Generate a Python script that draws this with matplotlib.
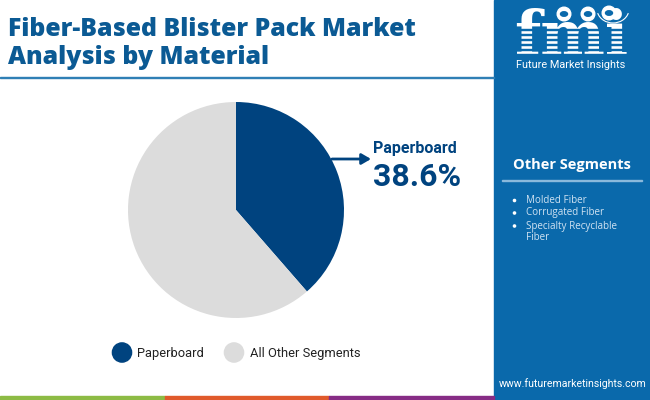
import matplotlib
matplotlib.use("Agg")
import matplotlib.pyplot as plt
from matplotlib.patches import Arc, Circle, Ellipse, Rectangle

plt.rcParams['font.family'] = ['Roboto', 'DejaVu Sans']

labels = ["Paperboard", "All Other Segments"]
values = [38.6, 61.4]
colors = ["#00437f", "#dcdcdc"]
others = ["Molded Fiber", "Corrugated Fiber", "Specialty Recyclable", "Fiber"]
bullets = [True, True, True, False]
title_lines = ["Fiber-Based Blister Pack Market", "Analysis by Material"]

BLUE = "#0a69ab"
NAVY = "#0b5a94"

fig = plt.figure(figsize=(6.5, 4.0), dpi=100)

# background layer in pixel coords, y going down
bg = fig.add_axes([0, 0, 1, 1])
bg.set_xlim(0, 650)
bg.set_ylim(400, 0)
bg.axis("off")

# right panel
bg.add_patch(Rectangle((494, 0), 156, 400, color=BLUE, zorder=1))
bg.add_patch(Rectangle((0, 76.5), 494, 1.5, color="#2f7fb5", zorder=1))

# bottom strip
bg.add_patch(Rectangle((0, 396), 165, 4, color="#8dbb45", zorder=1))
bg.add_patch(Rectangle((165, 396), 164, 4, color="#e05a2b", zorder=1))
bg.add_patch(Rectangle((329, 396), 165, 4, color="#872c85", zorder=1))

# title
for line, y in zip(title_lines, [29, 57]):
    bg.text(8, y, line, fontsize=17.9, fontweight="heavy", color=NAVY,
            family=["Open Sans", "DejaVu Sans"], va="center", ha="left", zorder=3)

# pie
ax = fig.add_axes([128 / 650, 1 - 318 / 400, 216 / 650, 216 / 400])
ax.pie(values, colors=colors, startangle=90, counterclock=False, radius=1.0)
ax.set_xlim(-1, 1)
ax.set_ylim(-1, 1)

# callout
bg.annotate("", xy=(371, 159), xytext=(332, 159), zorder=4,
            arrowprops=dict(arrowstyle="-|>,head_width=0.32,head_length=0.55",
                            color=colors[0], lw=2, shrinkA=0, shrinkB=0))
bg.text(373, 148.5, labels[0], fontsize=11.5, fontweight="bold", color=colors[0],
        va="center", ha="left", zorder=4)
bg.text(373, 177, "%.1f%%" % values[0], fontsize=23, fontweight="bold", color=colors[0],
        va="center", ha="left", zorder=4)

# legend
for x, col, lab, tx in zip([122, 234], colors, labels, [137, 250]):
    bg.add_patch(Circle((x, 352.5), 9.6, color=col, zorder=3))
    bg.text(tx, 353, lab, fontsize=9.3, color="#222222", va="center", ha="left", zorder=3)

# logo
bg.text(571, 55, "fmi", fontsize=44, fontweight="bold", color="white",
        family=["DejaVu Serif"], va="baseline", ha="center", zorder=3)
for y in range(29, 55, 5):
    bg.add_patch(Rectangle((510, y), 122, 0.9, color=BLUE, zorder=4))
for x, y in [(564, 14), (588, 14), (609, 13)]:
    bg.add_patch(Circle((x, y), 6.8, color="white", zorder=5))
    bg.add_patch(Ellipse((x, y), 7, 4.5, color=BLUE, zorder=6))
bg.add_patch(Arc((613, 9), 32, 28, theta1=15, theta2=165, color="white", lw=0.8, zorder=5))
bg.set_ylim(400, 0)
bg.text(571, 64.5, "Future Market Insights", fontsize=7.8, color="white",
        va="center", ha="center", zorder=3)

# side list
bg.text(571.5, 164.5, "Other Segments", fontsize=10.5, fontweight="bold", color="white",
        family=["Open Sans", "DejaVu Sans"], va="center", ha="center", zorder=3)
bg.add_patch(Rectangle((502, 180), 140, 1.3, color="#8ab9dc", zorder=3))
for txt, y, b in zip(others, [200.5, 213, 226, 238], bullets):
    if b:
        bg.add_patch(Circle((514.5, y), 1.1, color="white", zorder=3))
    bg.text(526, y, txt, fontsize=7.1, color="#cfe2f2",
            family=["Open Sans", "DejaVu Sans"], va="center", ha="left", zorder=3)

bg.text(572.5, 384, "www.futuremarketinsights.com", fontsize=7.6, color="white",
        va="center", ha="center", zorder=3)

fig.savefig("out.png", dpi=100)
